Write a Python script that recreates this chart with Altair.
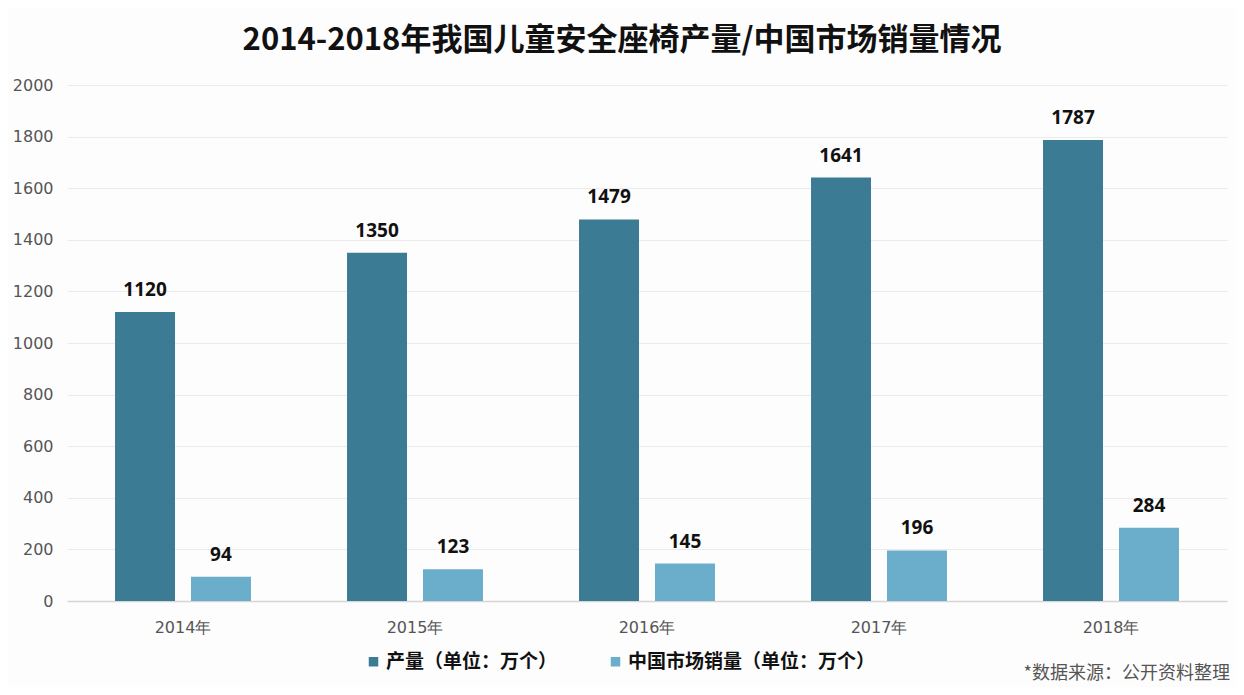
import altair as alt
import pandas as pd

years = ["2014年", "2015年", "2016年", "2017年", "2018年"]
production = [1120, 1350, 1479, 1641, 1787]
sales = [94, 123, 145, 196, 284]
series = ["产量（单位：万个）", "中国市场销量（单位：万个）"]
colors = ["#3b7b94", "#6aaecb"]
title_text = "2014-2018年我国儿童安全座椅产量/中国市场销量情况"
source_text = "*数据来源：公开资料整理"

rows = []
for i, y in enumerate(years):
    rows.append({"year": y, "series": series[0], "value": production[i]})
    rows.append({"year": y, "series": series[1], "value": sales[i]})
df = pd.DataFrame(rows)

x = alt.X("year:N", sort=years, title=None,
          scale=alt.Scale(paddingInner=0.414, paddingOuter=0.207),
          axis=alt.Axis(labelAngle=0, labelFontSize=16, labelColor="#555555",
                        labelFont="DejaVu Sans", labelPadding=18, ticks=False,
                        domainColor="#d6d6d6", domainWidth=1.5, grid=False))
xo = alt.XOffset("series:N", sort=series,
                 scale=alt.Scale(paddingInner=0.2105, paddingOuter=0))
y = alt.Y("value:Q", title=None,
          scale=alt.Scale(domain=[0, 2000], nice=False),
          axis=alt.Axis(values=list(range(0, 2001, 200)), format="d", labelFontSize=16,
                        labelColor="#555555", labelFont="DejaVu Sans",
                        labelPadding=14, ticks=False, domain=False,
                        gridColor="#ebebeb", gridWidth=1))
color = alt.Color("series:N", sort=series,
                  scale=alt.Scale(domain=series, range=colors),
                  legend=alt.Legend(title=None, orient="none", direction="horizontal",
                                    legendX=297, legendY=567, symbolType="square",
                                    symbolSize=90, symbolStrokeWidth=0,
                                    labelFontSize=19, labelFontWeight="bold",
                                    labelColor="#111111", labelFont="Noto Sans CJK SC",
                                    columnPadding=48, labelOffset=3, labelLimit=400))

base = alt.Chart(df)
bars = base.mark_bar().encode(x=x, xOffset=xo, y=y, color=color)
labels = base.mark_text(baseline="bottom", dy=-12, fontSize=19, fontWeight="bold",
                        font="Noto Sans", color="#111111").encode(
    x=x, xOffset=xo, y=y, text="value:Q")

src = alt.Chart(pd.DataFrame({"t": [source_text]})).mark_text(
    align="right", baseline="middle", fontSize=18, color="#555555",
    font="Noto Sans CJK SC").encode(
    x=alt.value(1163), y=alt.value(589), text="t:N")

chart = alt.layer(bars, labels, src).properties(
    width=1160, height=516,
    background="#fdfdfd",
    title=alt.TitleParams(title_text, fontSize=31, fontWeight="bold",
                          font="Noto Sans CJK SC", color="#111111",
                          anchor="middle", offset=20, dx=-25),
    autosize=alt.AutoSizeParams(type="none"),
    padding={"left": 59, "top": 77, "right": 9, "bottom": 86},
).configure_view(stroke=None)

chart.save("out.html", embed_options={"renderer": "svg", "actions": False})
